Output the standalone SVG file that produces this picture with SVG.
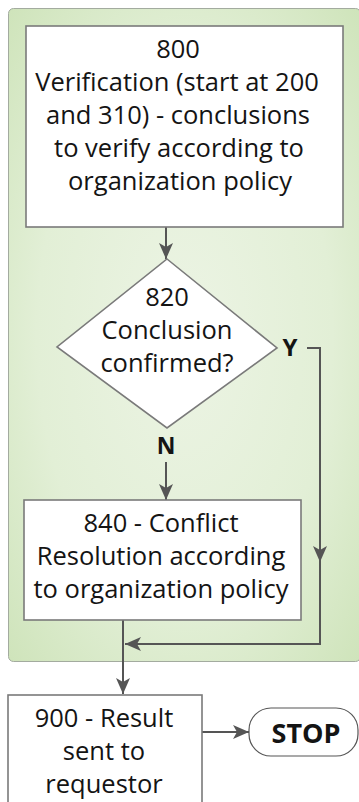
<svg xmlns="http://www.w3.org/2000/svg" width="359" height="802" viewBox="0 0 359 802">
<style>
.box{fill:#fff;stroke:#7a7a7a;stroke-width:1.6}
.t{font-family:"Open Sans","Noto Sans",sans-serif;font-size:25.5px;fill:#141414;text-anchor:middle}
.b{font-family:"Open Sans","Noto Sans",sans-serif;font-weight:bold;fill:#141414;text-anchor:middle}
.c{fill:none;stroke:#555;stroke-width:2}
</style>
<defs>
<radialGradient id="g" cx="0.5" cy="0.5" r="0.7">
<stop offset="0" stop-color="#ecf4e4"/>
<stop offset="0.6" stop-color="#e2efd6"/>
<stop offset="1" stop-color="#cfe4bb"/>
</radialGradient>
<marker id="a" markerUnits="userSpaceOnUse" markerWidth="17" markerHeight="15" viewBox="-16 -7.5 16 15" refX="0" refY="0" orient="auto">
<path d="M0,0 L-16,-7 L-12,0 L-16,7 Z" fill="#555"/>
</marker>
</defs>
<g id="panel">
<rect x="8.5" y="8.5" width="352" height="653" rx="5" fill="url(#g)" stroke="#a3ab9f" stroke-width="1"/>
</g>
<g id="connectors">
<path class="c" d="M166,227 V259" marker-end="url(#a)"/>
<path class="c" d="M166,462 V500" marker-end="url(#a)"/>
<path class="c" d="M307,348 H320 V562" marker-end="url(#a)"/>
<path class="c" d="M320,556 V644 H125" marker-end="url(#a)"/>
<path class="c" d="M123,620 V694" marker-end="url(#a)"/>
<path class="c" d="M202,732 H249" marker-end="url(#a)"/>
</g>
<g id="n800">
<rect class="box" x="26" y="26" width="317" height="201"/>
<text class="t" x="178" y="58">800</text>
<text class="t" x="177" y="91">Verification (start at 200</text>
<text class="t" x="178" y="124">and 310) - conclusions</text>
<text class="t" x="179" y="157">to verify according to</text>
<text class="t" x="180" y="190">organization policy</text>
</g>
<g id="n820">
<polygon points="167,259 277,348 167,428 57,347" fill="#fff" stroke="#7a7a7a" stroke-width="1.6"/>
<text class="t" x="167" y="306">820</text>
<text class="t" x="167" y="339">Conclusion</text>
<text class="t" x="167" y="372">confirmed?</text>
</g>
<g id="labels">
<text class="b" x="290" y="356" font-size="24">Y</text>
<text class="b" x="166" y="454" font-size="23">N</text>
</g>
<g id="n840">
<rect class="box" x="24" y="500" width="277" height="120"/>
<text class="t" x="161" y="532">840 - Conflict</text>
<text class="t" x="161" y="565">Resolution according</text>
<text class="t" x="161" y="598">to organization policy</text>
</g>
<g id="n900">
<rect class="box" x="8" y="695" width="194" height="120"/>
<text class="t" x="104" y="727">900 - Result</text>
<text class="t" x="104" y="760">sent to</text>
<text class="t" x="104" y="793">requestor</text>
</g>
<g id="stop">
<rect x="249" y="708" width="109" height="48" rx="22" fill="#fff" stroke="#555" stroke-width="1.2"/>
<text class="b" x="306" y="743" font-size="27">STOP</text>
</g>
</svg>
